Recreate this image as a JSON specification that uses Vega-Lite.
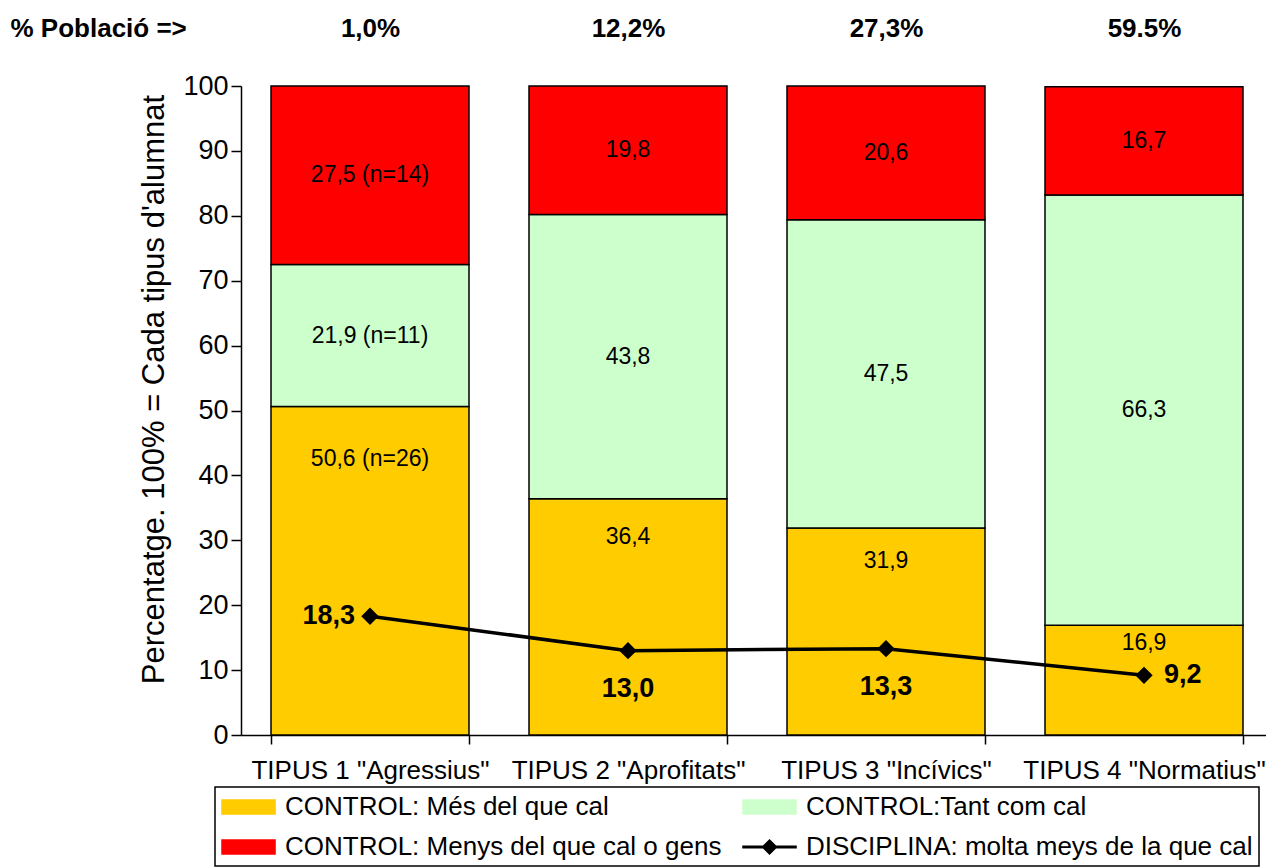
{
  "$schema": "https://vega.github.io/schema/vega-lite/v6.json",
  "width": 1032,
  "height": 649,
  "autosize": {"type": "none"},
  "padding": {"left": 241, "top": 86, "right": 0, "bottom": 132},
  "background": "white",
  "datasets": {
    "barres": [
      {"tipus": "TIPUS 1 \"Agressius\"", "serie": "CONTROL: Més del que cal", "ordre": 1, "valor": 50.6, "etiqueta": "50,6 (n=26)"},
      {"tipus": "TIPUS 1 \"Agressius\"", "serie": "CONTROL:Tant com cal", "ordre": 2, "valor": 21.9, "etiqueta": "21,9 (n=11)"},
      {"tipus": "TIPUS 1 \"Agressius\"", "serie": "CONTROL: Menys del que cal o gens", "ordre": 3, "valor": 27.5, "etiqueta": "27,5 (n=14)"},
      {"tipus": "TIPUS 2 \"Aprofitats\"", "serie": "CONTROL: Més del que cal", "ordre": 1, "valor": 36.4, "etiqueta": "36,4"},
      {"tipus": "TIPUS 2 \"Aprofitats\"", "serie": "CONTROL:Tant com cal", "ordre": 2, "valor": 43.8, "etiqueta": "43,8"},
      {"tipus": "TIPUS 2 \"Aprofitats\"", "serie": "CONTROL: Menys del que cal o gens", "ordre": 3, "valor": 19.8, "etiqueta": "19,8"},
      {"tipus": "TIPUS 3 \"Incívics\"", "serie": "CONTROL: Més del que cal", "ordre": 1, "valor": 31.9, "etiqueta": "31,9"},
      {"tipus": "TIPUS 3 \"Incívics\"", "serie": "CONTROL:Tant com cal", "ordre": 2, "valor": 47.5, "etiqueta": "47,5"},
      {"tipus": "TIPUS 3 \"Incívics\"", "serie": "CONTROL: Menys del que cal o gens", "ordre": 3, "valor": 20.6, "etiqueta": "20,6"},
      {"tipus": "TIPUS 4 \"Normatius\"", "serie": "CONTROL: Més del que cal", "ordre": 1, "valor": 16.9, "etiqueta": "16,9"},
      {"tipus": "TIPUS 4 \"Normatius\"", "serie": "CONTROL:Tant com cal", "ordre": 2, "valor": 66.3, "etiqueta": "66,3"},
      {"tipus": "TIPUS 4 \"Normatius\"", "serie": "CONTROL: Menys del que cal o gens", "ordre": 3, "valor": 16.7, "etiqueta": "16,7"}
    ],
    "linia": [
      {"tipus": "TIPUS 1 \"Agressius\"", "serie": "DISCIPLINA: molta meys de la que cal", "valor": 18.3, "etiqueta": "18,3"},
      {"tipus": "TIPUS 2 \"Aprofitats\"", "serie": "DISCIPLINA: molta meys de la que cal", "valor": 13.0, "etiqueta": "13,0"},
      {"tipus": "TIPUS 3 \"Incívics\"", "serie": "DISCIPLINA: molta meys de la que cal", "valor": 13.3, "etiqueta": "13,3"},
      {"tipus": "TIPUS 4 \"Normatius\"", "serie": "DISCIPLINA: molta meys de la que cal", "valor": 9.2, "etiqueta": "9,2"}
    ],
    "poblacio": [
      {"tipus": "TIPUS 1 \"Agressius\"", "poblacio": "1,0%"},
      {"tipus": "TIPUS 2 \"Aprofitats\"", "poblacio": "12,2%"},
      {"tipus": "TIPUS 3 \"Incívics\"", "poblacio": "27,3%"},
      {"tipus": "TIPUS 4 \"Normatius\"", "poblacio": "59.5%"}
    ]
  },
  "layer": [
    {
      "encoding": {
        "x": {
          "field": "tipus", "type": "nominal", "sort": null,
          "scale": {"domain": ["TIPUS 1 \"Agressius\"", "TIPUS 2 \"Aprofitats\"", "TIPUS 3 \"Incívics\"", "TIPUS 4 \"Normatius\""], "paddingInner": 0.2326, "paddingOuter": 0.1163},
          "axis": {"title": null, "orient": "bottom", "labelAngle": 0, "labelFontSize": 26, "tickBand": "extent", "tickSize": 9, "labelPadding": 13, "labelLimit": 0}
        }
      },
      "layer": [
        {
          "data": {"name": "barres"},
          "mark": {"type": "bar", "stroke": "black", "strokeWidth": 1.5},
          "encoding": {
            "y": {
              "field": "valor", "type": "quantitative", "stack": "zero",
              "scale": {"domain": [0, 100], "nice": false},
              "axis": {"title": "Percentatge. 100% = Cada tipus d'alumnat", "titleFontSize": 31, "titleFontWeight": "normal", "titlePadding": 12, "titleY": 303, "labelFontSize": 27, "tickSize": 10, "labelPadding": 3, "values": [0, 10, 20, 30, 40, 50, 60, 70, 80, 90, 100]}
            },
            "order": {"field": "ordre"},
            "color": {
              "field": "serie", "type": "nominal",
              "scale": {"domain": ["CONTROL: Més del que cal", "CONTROL:Tant com cal", "CONTROL: Menys del que cal o gens", "DISCIPLINA: molta meys de la que cal"], "range": ["#FFCC00", "#CCFFCC", "#FF0000", "#000000"]},
              "legend": {"title": null, "symbolStrokeColor": "black", "symbolStrokeWidth": 1.5}
            }
          }
        },
        {
          "data": {"name": "barres"},
          "mark": {"type": "text", "fontSize": 23, "color": "black", "baseline": "middle"},
          "encoding": {
            "y": {
              "field": "valor", "type": "quantitative", "stack": "zero", "bandPosition": 0.5,
              "scale": {"domain": [0, 100], "nice": false},
              "axis": {"title": "Percentatge. 100% = Cada tipus d'alumnat", "titleFontSize": 31, "titleFontWeight": "normal", "titlePadding": 12, "titleY": 303, "labelFontSize": 27, "tickSize": 10, "labelPadding": 3, "values": [0, 10, 20, 30, 40, 50, 60, 70, 80, 90, 100]}
            },
            "detail": {"field": "serie"},
            "order": {"field": "ordre"},
            "text": {"condition": {"test": "datum.ordre != 1", "field": "etiqueta"}, "value": ""}
          }
        },
        {
          "data": {"name": "barres"},
          "mark": {"type": "text", "fontSize": 23, "color": "black", "baseline": "middle"},
          "encoding": {
            "y": {
              "field": "valor", "type": "quantitative", "stack": "zero", "bandPosition": 0.84,
              "scale": {"domain": [0, 100], "nice": false},
              "axis": {"title": "Percentatge. 100% = Cada tipus d'alumnat", "titleFontSize": 31, "titleFontWeight": "normal", "titlePadding": 12, "titleY": 303, "labelFontSize": 27, "tickSize": 10, "labelPadding": 3, "values": [0, 10, 20, 30, 40, 50, 60, 70, 80, 90, 100]}
            },
            "detail": {"field": "serie"},
            "order": {"field": "ordre"},
            "text": {"condition": {"test": "datum.ordre == 1", "field": "etiqueta"}, "value": ""}
          }
        },
        {
          "data": {"name": "linia"},
          "mark": {"type": "line", "strokeWidth": 3.5},
          "encoding": {
            "y": {
              "field": "valor", "type": "quantitative",
              "scale": {"domain": [0, 100], "nice": false},
              "axis": {"title": "Percentatge. 100% = Cada tipus d'alumnat", "titleFontSize": 31, "titleFontWeight": "normal", "titlePadding": 12, "titleY": 303, "labelFontSize": 27, "tickSize": 10, "labelPadding": 3, "values": [0, 10, 20, 30, 40, 50, 60, 70, 80, 90, 100]}
            },
            "color": {
              "field": "serie", "type": "nominal",
              "scale": {"domain": ["CONTROL: Més del que cal", "CONTROL:Tant com cal", "CONTROL: Menys del que cal o gens", "DISCIPLINA: molta meys de la que cal"], "range": ["#FFCC00", "#CCFFCC", "#FF0000", "#000000"]},
              "legend": {"title": null, "symbolStrokeColor": "black", "symbolStrokeWidth": 1.5}
            }
          }
        },
        {
          "data": {"name": "linia"},
          "mark": {"type": "point", "shape": "diamond", "size": 300, "filled": true, "color": "black", "opacity": 1},
          "encoding": {
            "y": {
              "field": "valor", "type": "quantitative",
              "scale": {"domain": [0, 100], "nice": false},
              "axis": {"title": "Percentatge. 100% = Cada tipus d'alumnat", "titleFontSize": 31, "titleFontWeight": "normal", "titlePadding": 12, "titleY": 303, "labelFontSize": 27, "tickSize": 10, "labelPadding": 3, "values": [0, 10, 20, 30, 40, 50, 60, 70, 80, 90, 100]}
            }
          }
        },
        {
          "data": {"name": "linia"},
          "transform": [{"filter": "false"}],
          "mark": {"type": "point", "filled": true, "opacity": 1},
          "encoding": {
            "y": {
              "field": "valor", "type": "quantitative",
              "scale": {"domain": [0, 100], "nice": false},
              "axis": {"title": "Percentatge. 100% = Cada tipus d'alumnat", "titleFontSize": 31, "titleFontWeight": "normal", "titlePadding": 12, "titleY": 303, "labelFontSize": 27, "tickSize": 10, "labelPadding": 3, "values": [0, 10, 20, 30, 40, 50, 60, 70, 80, 90, 100]}
            },
            "color": {
              "field": "serie", "type": "nominal",
              "scale": {"domain": ["CONTROL: Més del que cal", "CONTROL:Tant com cal", "CONTROL: Menys del que cal o gens", "DISCIPLINA: molta meys de la que cal"], "range": ["#FFCC00", "#CCFFCC", "#FF0000", "#000000"]},
              "legend": {"title": null, "symbolStrokeColor": "black", "symbolStrokeWidth": 1.5}
            },
            "shape": {
              "field": "serie", "type": "nominal",
              "scale": {"domain": ["CONTROL: Més del que cal", "CONTROL:Tant com cal", "CONTROL: Menys del que cal o gens", "DISCIPLINA: molta meys de la que cal"], "range": ["M-1,-0.54H3.08V0.54H-1Z", "M-1,-0.54H3.08V0.54H-1Z", "M-1,-0.54H3.08V0.54H-1Z", "M-1,-0.06H3.08V0.06H-1ZM1.04,-0.54L1.58,0L1.04,0.54L0.5,0Z"]},
              "legend": {"title": null, "symbolStrokeColor": "black", "symbolStrokeWidth": 1.5}
            }
          }
        },
        {
          "data": {"name": "linia"},
          "transform": [{"filter": {"field": "tipus", "oneOf": ["TIPUS 1 \"Agressius\""]}}],
          "mark": {"type": "text", "fontSize": 27, "fontWeight": "bold", "align": "right", "baseline": "middle", "dx": -15, "color": "black"},
          "encoding": {
            "y": {
              "field": "valor", "type": "quantitative",
              "scale": {"domain": [0, 100], "nice": false},
              "axis": {"title": "Percentatge. 100% = Cada tipus d'alumnat", "titleFontSize": 31, "titleFontWeight": "normal", "titlePadding": 12, "titleY": 303, "labelFontSize": 27, "tickSize": 10, "labelPadding": 3, "values": [0, 10, 20, 30, 40, 50, 60, 70, 80, 90, 100]}
            },
            "text": {"field": "etiqueta"}
          }
        },
        {
          "data": {"name": "linia"},
          "transform": [{"filter": {"field": "tipus", "oneOf": ["TIPUS 2 \"Aprofitats\"", "TIPUS 3 \"Incívics\""]}}],
          "mark": {"type": "text", "fontSize": 27, "fontWeight": "bold", "align": "center", "baseline": "middle", "dy": 38, "color": "black"},
          "encoding": {
            "y": {
              "field": "valor", "type": "quantitative",
              "scale": {"domain": [0, 100], "nice": false},
              "axis": {"title": "Percentatge. 100% = Cada tipus d'alumnat", "titleFontSize": 31, "titleFontWeight": "normal", "titlePadding": 12, "titleY": 303, "labelFontSize": 27, "tickSize": 10, "labelPadding": 3, "values": [0, 10, 20, 30, 40, 50, 60, 70, 80, 90, 100]}
            },
            "text": {"field": "etiqueta"}
          }
        },
        {
          "data": {"name": "linia"},
          "transform": [{"filter": {"field": "tipus", "oneOf": ["TIPUS 4 \"Normatius\""]}}],
          "mark": {"type": "text", "fontSize": 27, "fontWeight": "bold", "align": "left", "baseline": "middle", "dx": 20, "color": "black"},
          "encoding": {
            "y": {
              "field": "valor", "type": "quantitative",
              "scale": {"domain": [0, 100], "nice": false},
              "axis": {"title": "Percentatge. 100% = Cada tipus d'alumnat", "titleFontSize": 31, "titleFontWeight": "normal", "titlePadding": 12, "titleY": 303, "labelFontSize": 27, "tickSize": 10, "labelPadding": 3, "values": [0, 10, 20, 30, 40, 50, 60, 70, 80, 90, 100]}
            },
            "text": {"field": "etiqueta"}
          }
        }
      ]
    },
    {
      "data": {"name": "poblacio"},
      "mark": {"type": "text"},
      "encoding": {
        "x": {
          "field": "poblacio", "type": "nominal", "sort": null,
          "scale": {"paddingInner": 0.2326, "paddingOuter": 0.1163},
          "axis": {"orient": "top", "title": "% Població =>", "titleX": -231, "titleY": -58, "titleAlign": "left", "titleAnchor": "start", "titleAngle": 0, "titleBaseline": "middle", "titleFontSize": 26, "titleFontWeight": "bold", "labelFontSize": 26, "labelFontWeight": "bold", "ticks": false, "tickSize": 0, "domain": false, "labelPadding": 45, "labelAngle": 0}
        },
        "text": {"value": ""}
      }
    }
  ],
  "resolve": {"scale": {"x": "independent"}},
  "config": {
    "font": "Liberation Sans",
    "view": {"stroke": null},
    "axis": {"domainColor": "black", "tickColor": "black", "labelColor": "black", "titleColor": "black", "grid": false, "domainWidth": 1.5, "tickWidth": 1.5, "labelFont": "Liberation Sans", "titleFont": "Liberation Sans"},
    "text": {"font": "Liberation Sans"},
    "legend": {
      "orient": "none", "legendX": -26, "legendY": 701, "columns": 2, "direction": "horizontal",
      "symbolSize": 676, "labelFontSize": 26, "labelFont": "Liberation Sans", "labelColor": "black", "labelOffset": 36, "labelLimit": 0,
      "columnPadding": 18, "rowPadding": 13, "strokeColor": "black", "strokeWidth": 1.5, "padding": 6,
      "symbolStrokeColor": "black", "symbolStrokeWidth": 1.5, "symbolOpacity": 1, "fillColor": "white"
    }
  }
}
